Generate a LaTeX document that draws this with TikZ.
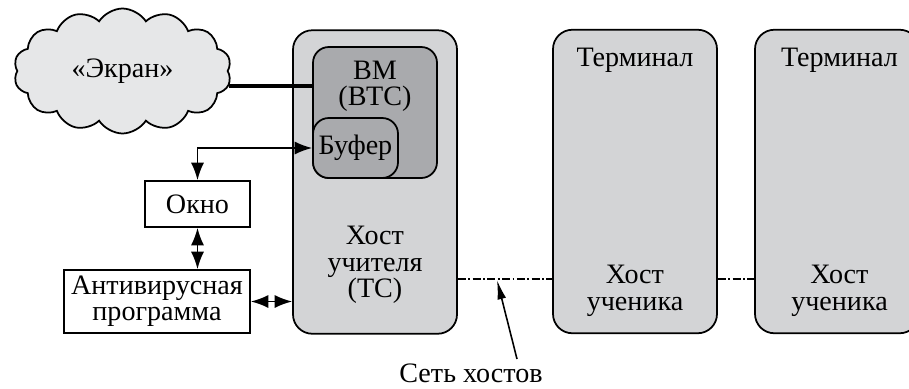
\documentclass[tikz,border=0pt]{standalone}
\usepackage{fontspec}
\setmainfont{Liberation Serif}
\usetikzlibrary{arrows.meta,positioning,calc,shapes.symbols}
\definecolor{hostgray}{HTML}{D3D4D6}
\definecolor{vmgray}{HTML}{A9AAAD}
\definecolor{cloudgray}{HTML}{E6E7E8}

\begin{document}
\begin{tikzpicture}[
  host/.style={rounded corners=11pt,draw,line width=1pt,fill=hostgray,
    minimum width=3.28cm,minimum height=6.07cm,inner sep=0pt},
  inner/.style={rounded corners=9pt,draw,line width=1pt,fill=vmgray,inner sep=0pt},
  plain/.style={draw,line width=1pt,fill=white,inner sep=0pt,align=center},
  lbl/.style={align=center,inner sep=0pt,font=\fontsize{16}{15}\selectfont},
  link/.style={line width=0.9pt,{Latex[length=10pt,width=7.5pt]}-{Latex[length=10pt,width=7.5pt]}},
  net/.style={line width=1.1pt,dash pattern=on 4.5pt off 1.4pt on 1.1pt off 1.4pt}]
\clip (0,0) rectangle (18.18,-7.76);
% hosts
\node[host] (teacher) at (7.50,-3.64) {};
\node[host] (pupilA) at (12.70,-3.63) {};
\node[host] (pupilB) at (16.74,-3.63) {};
\node[inner,minimum width=2.48cm,minimum height=2.62cm] (vm) at (7.50,-2.25) {};
\node[inner,minimum width=1.70cm,minimum height=1.20cm] (buf) at (7.11,-2.96) {};
\node[lbl] (vmtext) at (7.50,-1.72) {ВМ\\(ВТС)};
\node[lbl] at (buf) {Буфер};
\node[lbl] (teachertext) at (7.50,-5.30) {Хост\\учителя\\(ТС)};
\node[lbl] (termA) at (12.70,-1.20) {Терминал};
\node[lbl] (termB) at (16.79,-1.20) {Терминал};
\node[lbl] (pupilAtext) at (12.70,-5.82) {Хост\\ученика};
\node[lbl] (pupilBtext) at (16.79,-5.82) {Хост\\ученика};
% left side
\node[cloud,cloud puffs=14,cloud puff arc=115,aspect=1.75,draw,line width=1pt,
  fill=cloudgray,minimum width=4.35cm,minimum height=2.5cm,lbl] (screen) at (2.45,-1.42) {«Экран»};
\node[plain,lbl,minimum width=2.10cm,minimum height=0.92cm] (window) at (3.95,-4.08) {Окно};
\node[plain,lbl,minimum width=3.72cm,minimum height=1.26cm] (av) at (3.14,-6.03) {Антивирусная\\программа};
\node[lbl] (netlabel) at (9.42,-7.46) {Сеть хостов};
\coordinate (netpt) at (9.94,-5.60);
\coordinate (netfoot) at (10.34,-7.18);
% connections
\draw[line width=2pt] (screen.east |- 0,-1.72) -- (vm.west |- 0,-1.72);
\draw[link] (window.north) |- (buf.west);
\draw[link] (window.south) -- (window.south |- av.north);
\draw[link] (av.east) -- (av.east -| teacher.west);
\draw[net] (teacher.east |- 0,-5.58) -- (pupilA.west |- 0,-5.58);
\draw[net] (pupilA.east |- 0,-5.58) -- (pupilB.west |- 0,-5.58);
\draw[line width=0.9pt,-{Latex[length=11pt,width=5pt]}] (netfoot) -- (netpt);
\end{tikzpicture}
\end{document}
